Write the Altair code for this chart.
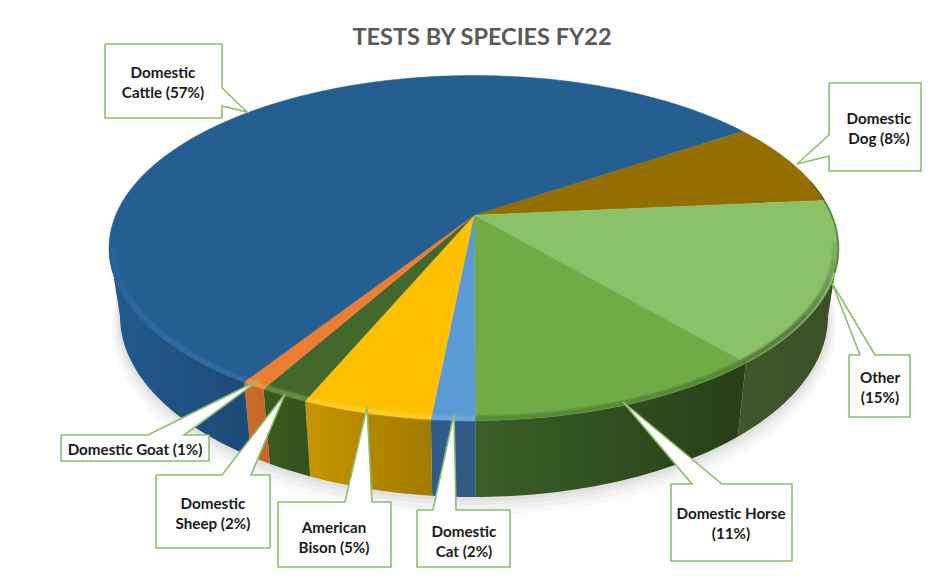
import math
import altair as alt
import pandas as pd

# Slice shares in percent, clockwise from the Cattle/Dog boundary
species = ["Domestic Dog", "Other", "Domestic Horse", "Domestic Cat", "American Bison", "Domestic Sheep", "Domestic Goat", "Domestic Cattle"]
shares = [8.0, 15.2, 11.2, 1.6, 4.8, 1.8, 0.9, 56.5]
top_colors = ["#946F00", "#8BC168", "#6FAC46", "#5B9BD5", "#FFC000", "#43682B", "#ED7D31", "#255E91"]
start_angle = 34.0

# colour at left and right of the visible side wall
rim_left = {"Other": "#3F572B", "Domestic Horse": "#3A5F27", "Domestic Cat": "#2F5D8C", "American Bison": "#C69500",
            "Domestic Sheep": "#3A5C20", "Domestic Goat": "#CB6C2B", "Domestic Cattle": "#225A8E"}
rim_right = {"Other": "#3A4F27", "Domestic Horse": "#273F17", "Domestic Cat": "#2F5A85", "American Bison": "#A07A00",
             "Domestic Sheep": "#33501C", "Domestic Goat": "#C46627", "Domestic Cattle": "#1D4A76"}
# bevel colour and strength
bevels = {"Other": ("#2C3F1C", 0.8), "Domestic Horse": ("#3F6A27", 0.7), "Domestic Cat": ("#8FBEE8", 0.5),
          "American Bison": ("#FFD84D", 0.7), "Domestic Sheep": ("#7BAA58", 0.8),
          "Domestic Goat": ("#F7A468", 0.7), "Domestic Cattle": ("#3A82C2", 0.7)}

title = "TESTS BY SPECIES FY22"
callouts = [
    (105, 222, 44, 118, [(222, 88), (247, 112), (222, 106)]),
    (829, 921, 83, 171, [(829, 135), (797, 164), (829, 156)]),
    (849, 910, 355, 417, [(875, 355), (832, 283), (860, 355)]),
    (671, 792, 484, 561, [(722, 484), (623, 402), (692, 484)]),
    (417, 510, 510, 567, [(456, 510), (454, 414), (433, 510)]),
    (278, 391, 502, 567, [(372, 502), (367, 407), (345, 502)]),
    (156, 270, 475, 548, [(251, 475), (285, 394), (222, 475)]),
    (61, 209, 435, 461, [(184, 435), (259, 380), (148, 435)]),
]
labels = [
    ("Domestic", 163, 73), ("Cattle (57%)", 163, 93),
    ("Domestic", 879, 119), ("Dog (8%)", 879, 139),
    ("Other", 880, 378), ("(15%)", 880, 398),
    ("Domestic Horse", 731, 514), ("(11%)", 731, 534),
    ("Domestic", 464, 532), ("Cat (2%)", 464, 552),
    ("American", 334, 528), ("Bison (5%)", 334, 548),
    ("Domestic", 213, 504), ("Sheep (2%)", 213, 524),
    ("Domestic Goat (1%)", 135, 450),
]

W, H = 914, 560
CX, CY, RX, RY = 474, 248, 365, 172.5
BX, BY, BRX, BRY = 474, 316, 354, 181
B = 0.19
X = alt.X("x:Q", scale=alt.Scale(domain=[8, 8 + W], nice=False, zero=False), axis=None)
Y = alt.Y("y:Q", scale=alt.Scale(domain=[8 + H, 8], nice=False, zero=False), axis=None)


def uv(phi):
    a = math.radians(phi)
    x, y = math.cos(a), math.sin(a)
    d = 1 + B * y
    return math.sqrt(1 - B * B) * x / d, (y + B) / d


def top(phi, k=1.0):
    u, v = uv(phi)
    return CX + k * RX * u, CY - k * RY * v


def bot(phi):
    u, v = uv(phi)
    return BX + BRX * u, BY - BRY * v


def arc(a0, a1):
    n = max(2, int(abs(a1 - a0)) + 2)
    return [a0 + (a1 - a0) * i / (n - 1) for i in range(n)]


def poly(pts, **mk):
    df = pd.DataFrame({"x": [p[0] for p in pts], "y": [p[1] for p in pts], "i": range(len(pts))})
    return alt.Chart(df).mark_line(**mk).encode(x=X, y=Y, order="i:Q")


layers = []
# soft shadow below the body
for k, op in ((14, 0.05), (10, 0.06), (6, 0.08), (3, 0.08)):
    pts = [(BX + (BRX + k * 0.6) * math.cos(math.radians(a)), BY + k * 0.7 + (BRY + k * 0.6) * math.sin(math.radians(a)))
           for a in range(0, 360, 2)]
    layers.append(poly(pts, fill="#808080", fillOpacity=op, strokeOpacity=0))

bounds = []
a = start_angle
for s in shares:
    a2 = a - s * 3.6
    bounds.append((a, a2))
    a = a2

right_ext = -math.degrees(math.asin(B))
left_ext = -180 + math.degrees(math.asin(B))

# side walls
for name, (a0, a1) in zip(species, bounds):
    lo, hi = max(a1, left_ext), min(a0, right_ext)
    if lo >= hi:
        continue
    angs = arc(hi, lo)
    pts = [top(t) for t in angs] + [bot(t) for t in reversed(angs)]
    grad = alt.LinearGradient(gradient="linear", x1=0, x2=1, y1=0, y2=0,
                              stops=[alt.GradientStop(offset=0, color=rim_left[name]),
                                     alt.GradientStop(offset=1, color=rim_right[name])])
    layers.append(poly(pts, fill=grad, strokeOpacity=0))

# top faces
apex = (CX, CY - B * RY)
for name, col, (a0, a1) in zip(species, top_colors, bounds):
    pts = [apex] + [top(t) for t in arc(a0, a1)]
    layers.append(poly(pts, fill=col, stroke=col, strokeWidth=0.5))

# soft bevel along the front edge
for name, (a0, a1) in zip(species, bounds):
    if name not in bevels:
        continue
    col, op = bevels[name]
    lo, hi = max(a1, left_ext - 4), min(a0, right_ext + 2)
    if lo >= hi:
        continue
    angs = arc(hi, lo)
    if name in ("Domestic Cattle", "Other"):
        # fades out towards the sides of the pie
        step = 6
        for i in range(0, len(angs) - 1, step):
            seg = angs[i:i + step + 1]
            mid = (i + step / 2) / max(1, len(angs) - 1)
            f = 1 - mid if name == "Domestic Cattle" else mid
            f = min(1.0, 0.12 + f * 1.3)
            for w, o in ((7, 0.25), (4, 0.45)):
                layers.append(poly([top(t, 0.988) for t in seg], stroke=col, strokeWidth=w,
                                   strokeOpacity=o * op * f, strokeCap="butt"))
    else:
        for w, o in ((7, 0.3), (4, 0.5)):
            layers.append(poly([top(t, 0.988) for t in angs], stroke=col, strokeWidth=w,
                               strokeOpacity=o * op, strokeCap="butt"))

# thin dark edge at the far right of the top face
edge = [top(t, 0.998) for t in arc(12, right_ext - 8)]
layers.append(poly(edge, stroke="#3B5228", strokeWidth=1.5, strokeOpacity=0.6))

# callouts
for (l, r, t, b, ptr) in callouts:
    if ptr[0][1] == t and ptr[2][1] == t:
        pts = [(l, t)] + ptr[::-1] + [(r, t), (r, b), (l, b), (l, t)]
    elif ptr[0][0] == r:
        pts = [(l, t), (r, t)] + ptr + [(r, b), (l, b), (l, t)]
    else:
        pts = [(l, t), (r, t), (r, b), (l, b)] + ptr[::-1] + [(l, t)]
    layers.append(poly(pts, fill="#FFFFFF", stroke="#8FBC6E", strokeWidth=1.6, strokeJoin="miter"))

# labels
lab_df = pd.DataFrame(labels, columns=["t", "x", "y"])
layers.append(alt.Chart(lab_df).mark_text(font="Lato", fontWeight="bold", fontSize=15.2, color="#1A1A1A", baseline="middle")
              .encode(x=X, y=Y, text="t:N"))
title_df = pd.DataFrame({"t": [title], "x": [482], "y": [38]})
layers.append(alt.Chart(title_df).mark_text(font="Lato", fontWeight="bold", fontSize=23.5, color="#595959", baseline="middle")
              .encode(x=X, y=Y, text="t:N"))

chart = alt.layer(*layers).properties(width=W, height=H, padding=0, autosize=alt.AutoSizeParams(type="none"),
                                      background="#FFFFFF").configure_view(strokeOpacity=0)
chart.save("out.html", embed_options={"renderer": "svg", "actions": False})
